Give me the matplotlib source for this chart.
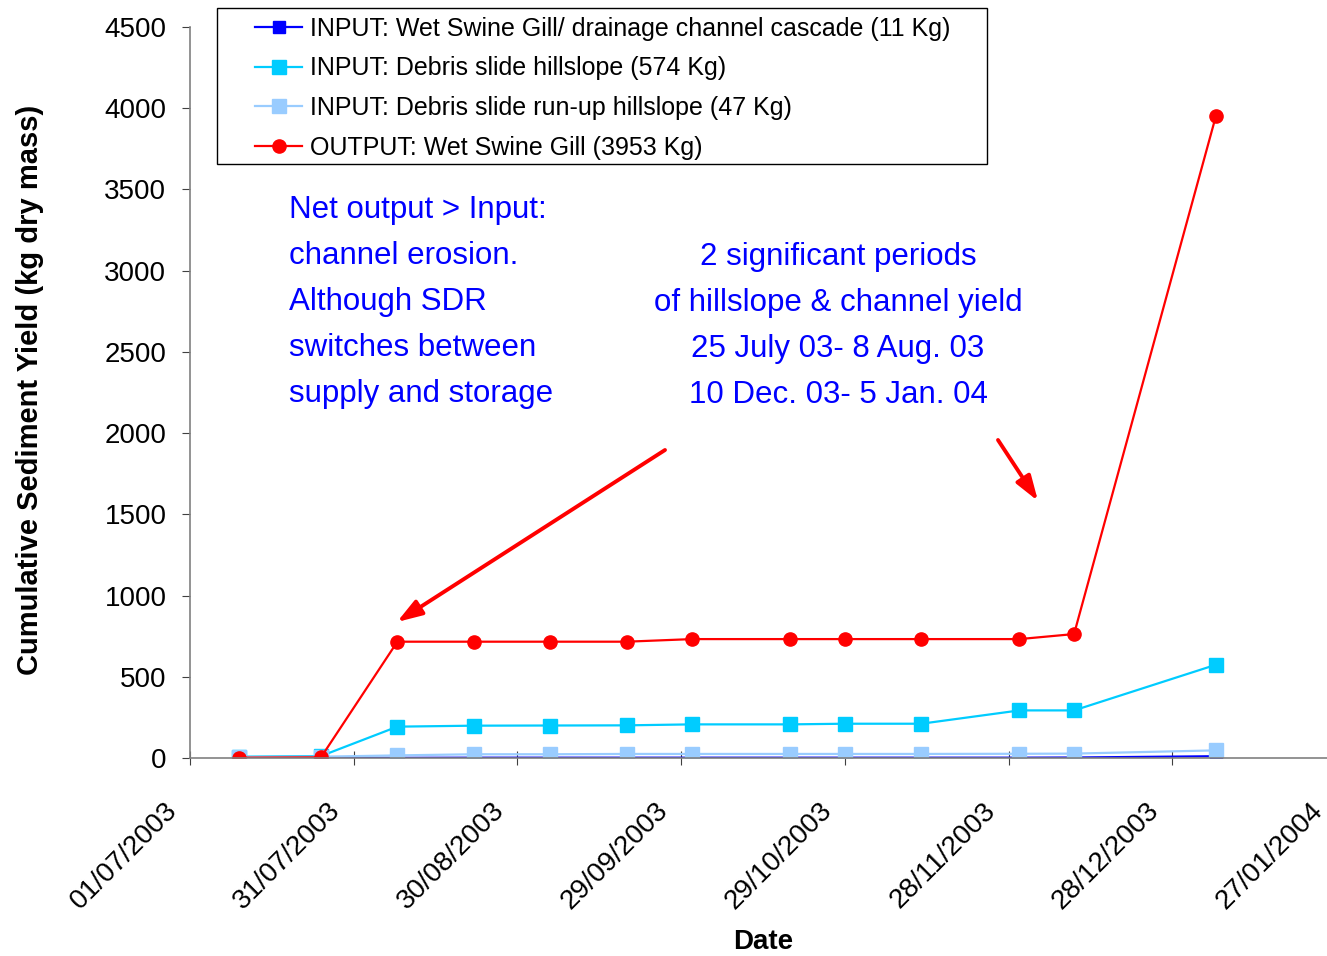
import numpy as np
import matplotlib.pyplot as plt
import matplotlib.dates as mdates
import matplotlib.transforms as mtransforms
from matplotlib.patches import Rectangle
from datetime import date, timedelta

plt.rcParams['font.family'] = ['Liberation Sans', 'DejaVu Sans']

# sampling dates
dates = [date(2003, 7, 10), date(2003, 7, 25), date(2003, 8, 8), date(2003, 8, 22),
         date(2003, 9, 5), date(2003, 9, 19), date(2003, 10, 1), date(2003, 10, 19),
         date(2003, 10, 29), date(2003, 11, 12), date(2003, 11, 30), date(2003, 12, 10),
         date(2004, 1, 5)]

# cumulative yields (kg dry mass)
cascade = [0, 0, 1, 2, 2, 2, 2, 2, 2, 2, 2, 3, 11]
hillslope = [8, 12, 193, 199, 200, 201, 207, 207, 211, 211, 293, 293, 574]
runup = [5, 8, 16, 23, 23, 25, 25, 25, 25, 25, 26, 27, 47]
output = [2, 4, 716, 716, 716, 716, 732, 732, 732, 732, 732, 763, 3953]

labels = ['INPUT: Wet Swine Gill/ drainage channel cascade (11 Kg)',
          'INPUT: Debris slide hillslope (574 Kg)',
          'INPUT: Debris slide run-up hillslope (47 Kg)',
          'OUTPUT: Wet Swine Gill (3953 Kg)']

tick_dates = [date(2003, 7, 1) + timedelta(days=30 * i) for i in range(8)]

W, H = 1327, 956
fig = plt.figure(figsize=(W / 100, H / 100), dpi=100)
ax = fig.add_axes([190 / W, 1 - 758 / H, (1336 - 190) / W, (758 - 27) / H])

ax.plot(dates, cascade, color='#0000FF', marker='s', ms=9, lw=1.6, label=labels[0])
ax.plot(dates, hillslope, color='#00CCFF', marker='s', ms=9.5, lw=1.6, label=labels[1])
ax.plot(dates, runup, color='#99CCFF', marker='s', ms=9.5, lw=1.6, label=labels[2])
ax.plot(dates, output, color='#FF0000', marker='o', ms=9.5, lw=1.6, label=labels[3])

ax.set_xlim(tick_dates[0], tick_dates[-1])
ax.set_ylim(0, 4500)
ax.set_yticks(np.arange(0, 4501, 500))
ax.set_xticks(tick_dates)
ax.xaxis.set_major_formatter(mdates.DateFormatter('%d/%m/%Y'))

for s in ['top', 'right']:
    ax.spines[s].set_visible(False)
for s in ['left', 'bottom']:
    ax.spines[s].set_color('#808080')
    ax.spines[s].set_linewidth(1.2)
ax.tick_params(axis='y', length=6, color='#404040', labelsize=20, pad=11)
ax.tick_params(axis='x', length=10, direction='inout', color='#404040', labelsize=20, pad=30)
shift = mtransforms.ScaledTranslation(-17 / 100, 0, fig.dpi_scale_trans)
for lab in ax.get_xticklabels():
    lab.set_rotation(45)
    lab.set_ha('right')
    lab.set_va('center')
    lab.set_rotation_mode('anchor')
    lab.set_transform(lab.get_transform() + shift)

ax.set_xlabel('Date', fontsize=20, fontweight='bold')
ax.xaxis.set_label_coords((763 - 190) / (1336 - 190), -(929 - 758) / (758 - 27))
ax.set_ylabel('Cumulative Sediment Yield (kg dry mass)', fontsize=21, fontweight='bold')
ax.yaxis.set_label_coords(-(190 - 44) / (1336 - 190), 0.503)

# legend frame drawn separately (Excel-style padding)
frame = Rectangle((217 / W, 1 - 164 / H), (987 - 217) / W, (164 - 8) / H,
                  transform=fig.transFigure, facecolor='white', edgecolor='black',
                  lw=1.0, zorder=4, clip_on=False)
ax.add_patch(frame)
ax.legend(loc='upper left', bbox_to_anchor=(255 / W, 1 - 17 / H),
          bbox_transform=fig.transFigure, fontsize=18, frameon=False,
          handlelength=1.88, handletextpad=0.32, labelspacing=0.62,
          borderpad=0, borderaxespad=0)

left_text = ['Net output > Input:', 'channel erosion.', 'Although SDR',
             'switches between', 'supply and storage']
right_text = ['2 significant periods', 'of hillslope & channel yield',
              '25 July 03- 8 Aug. 03', '10 Dec. 03- 5 Jan. 04']
for i, t in enumerate(left_text):
    fig.text(289 / W, 1 - (210 + 46 * i) / H, t, color='#0000FF', fontsize=22.5,
             ha='left', va='center')
for i, t in enumerate(right_text):
    fig.text(838 / W, 1 - (257 + 46 * i) / H, t, color='#0000FF', fontsize=22.5,
             ha='center', va='center')

arrowprops = dict(arrowstyle='-|>,head_length=1.5,head_width=0.5', color='#FF0000',
                  lw=2.8, shrinkA=0, shrinkB=0)
ax.annotate('', xy=(397 / W, 1 - 622 / H), xytext=(665 / W, 1 - 450 / H),
            xycoords='figure fraction', textcoords='figure fraction', arrowprops=arrowprops)
ax.annotate('', xy=(1038 / W, 1 - 501 / H), xytext=(998 / W, 1 - 440 / H),
            xycoords='figure fraction', textcoords='figure fraction', arrowprops=arrowprops)

fig.savefig('out.png', dpi=100)
